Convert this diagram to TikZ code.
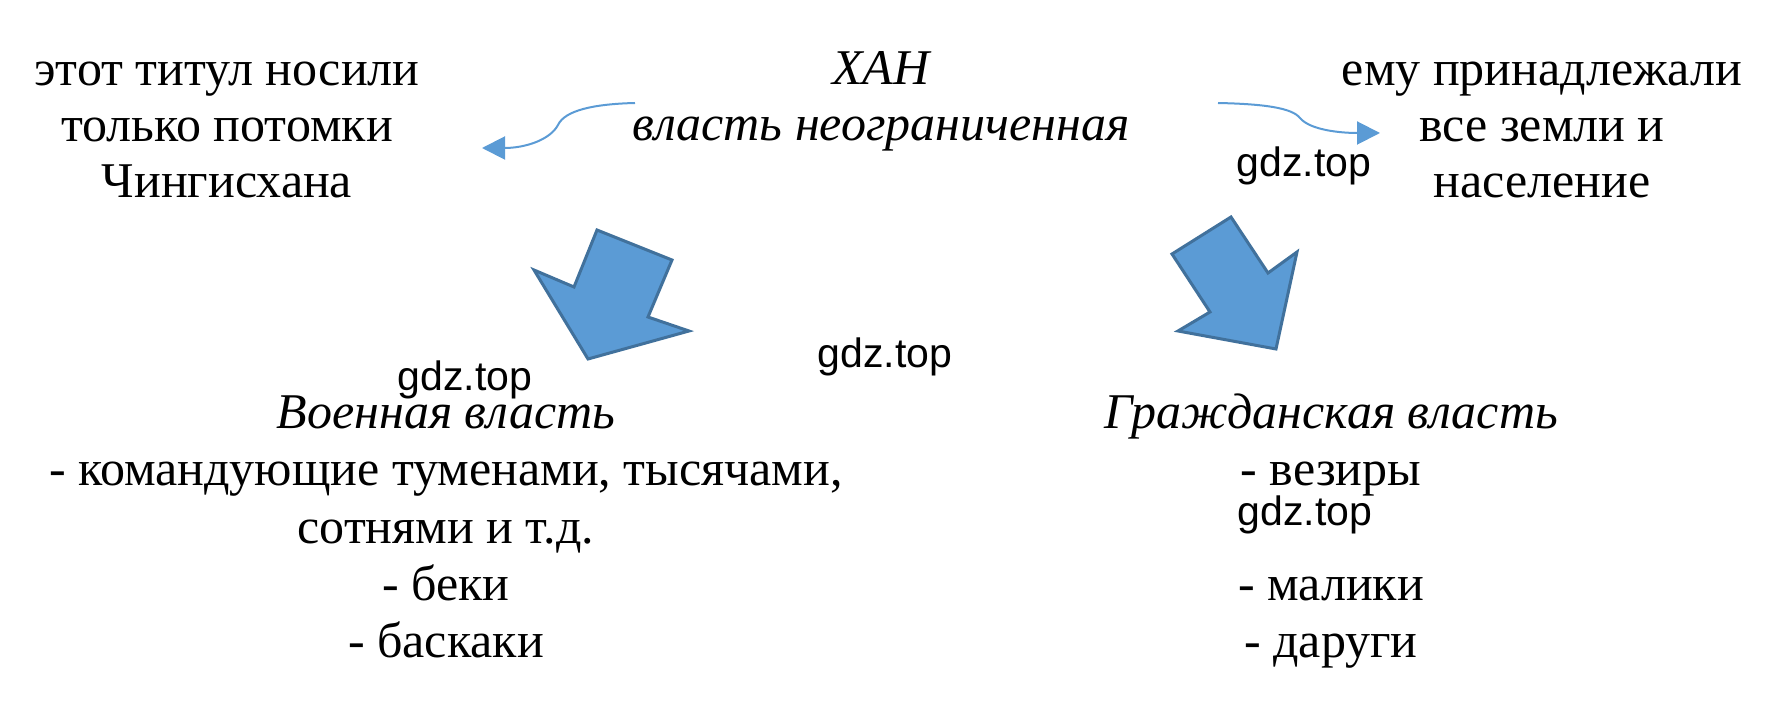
\documentclass[tikz,border=0pt]{standalone}
\usepackage{fontspec}
\setmainfont{Liberation Serif}
\newfontfamily\wmfont{Liberation Sans}
\usetikzlibrary{arrows.meta}
\definecolor{arrowBlue}{RGB}{91,155,213}
\definecolor{arrowEdge}{RGB}{65,113,156}

\tikzset{
	txt/.style={anchor=base, align=center, font=\fontsize{25}{28.75}\selectfont},
	toptxt/.style={txt, font=\fontsize{25}{28}\selectfont},
	wmark/.style={anchor=base, font=\wmfont\fontsize{20.5}{24}\selectfont},
	curvy/.style={draw=arrowBlue, line width=1pt, -{Triangle[length=11.5pt,width=11.5pt]}},
	bigArrow/.style={fill=arrowBlue, draw=arrowEdge, line width=1.5pt, line join=miter}
}

\begin{document}
\begin{tikzpicture}[x=0.5pt, y=-0.5pt]

	\useasboundingbox (0,0) rectangle (1774,721);

% Define coordinates.

	%curved arrows
	\coordinate (leftFrom) at (635,103);
	\coordinate (leftBend) at (558,125);
	\coordinate (leftTo) at (482,148);
	\coordinate (rightFrom) at (1218,103);
	\coordinate (rightBend) at (1300,118);
	\coordinate (rightTo) at (1380,133);

% Draw texts (placed by the baseline of their last line).

	\node[toptxt] (title) at (227,198) {этот титул носили\\только потомки\\Чингисхана};
	\node[toptxt, font=\fontsize{25}{28}\selectfont\itshape] (khan) at (881,141) {ХАН\\власть неограниченная};
	\node[toptxt] (lands) at (1542,198) {ему принадлежали\\все земли и\\население};

	\node[txt] (military) at (446,658) {\textit{Военная власть}\\- командующие туменами, тысячами,\\сотнями и т.д.\\- беки\\- баскаки};
	\node[txt] (civil) at (1331,658) {\textit{Гражданская власть}\\- везиры\\[28.75pt]- малики\\- даруги};

	%watermarks
	\node[wmark] (wm1) at (1304,177) {gdz.top};
	\node[wmark] (wm2) at (885,368) {gdz.top};
	\node[wmark] (wm3) at (465,391) {gdz.top};
	\node[wmark] (wm4) at (1305,526) {gdz.top};

% Draw curved arrows.

	\draw[curvy] (leftFrom) .. controls (595,104) and (565,110) .. (leftBend) .. controls (550,140) and (525,148) .. (leftTo);
	\draw[curvy] (rightFrom) .. controls (1265,104) and (1292,108) .. (rightBend) .. controls (1310,130) and (1340,133) .. (rightTo);

% Draw block arrows.

	\draw[bigArrow] (597,230) -- (672,260) -- (648,317) -- (689,331) -- (588,359) -- (534,270) -- (574,287) -- cycle;
	\draw[bigArrow] (1231,217) -- (1268,273) -- (1297,252) -- (1276,349) -- (1178,331) -- (1210,312) -- (1172,254) -- cycle;

\end{tikzpicture}
\end{document}
